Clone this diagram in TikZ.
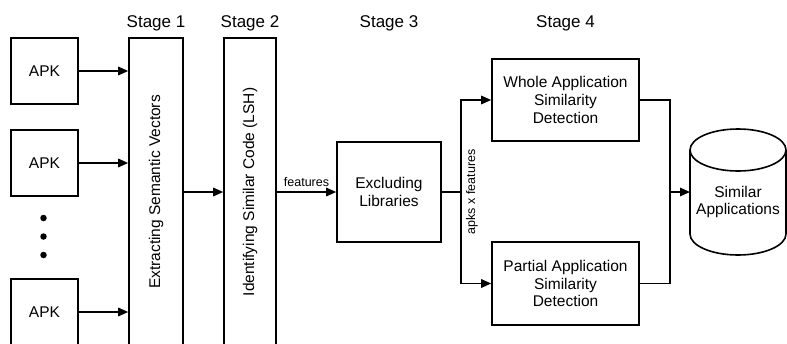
\documentclass[tikz,border=0pt]{standalone}
\usepackage{fontspec}
\setmainfont{Liberation Sans}
\usetikzlibrary{arrows.meta}
\begin{document}
\begin{tikzpicture}[x=1pt,y=-1pt,
  box/.style={draw, line width=1.6pt, inner sep=0pt, align=center, font=\fontsize{15.5}{17.8}\selectfont},
  conn/.style={line width=1.6pt},
  arr/.style={conn, -{Triangle[length=10pt,width=8.5pt]}},
  stagelbl/.style={font=\fontsize{17}{20}\selectfont},
  boxtxt/.style={font=\fontsize{15.5}{17.8}\selectfont, align=center, inner sep=0pt},
  small/.style={font=\fontsize{12.5}{14}\selectfont, inner sep=0pt},
  dotmark/.style={fill=black, circle, inner sep=0pt, minimum size=6.5pt}]
\useasboundingbox (0,0) rectangle (787,343);
% stage labels
\node[stagelbl] (st1) at (156,23) {Stage 1};
\node[stagelbl] (st2) at (250,23) {Stage 2};
\node[stagelbl] (st3) at (389,23) {Stage 3};
\node[stagelbl] (st4) at (565.5,23) {Stage 4};
% APK boxes
\node[box, minimum width=67pt, minimum height=66pt] (apk1) at (44.5,71) {APK};
\node[box, minimum width=67pt, minimum height=66pt] (apk2) at (44.5,163) {APK};
\node[box, minimum width=67pt, minimum height=66pt] (apk3) at (44.5,312) {APK};
\node[dotmark] (d1) at (43.5,218) {};
\node[dotmark] (d2) at (43.5,236.5) {};
\node[dotmark] (d3) at (43.5,255) {};
% stage 1 and 2 tall boxes
\node[box, minimum width=54pt, minimum height=322pt] (s1) at (156,199) {};
\node[box, minimum width=52pt, minimum height=322pt] (s2) at (250,199) {};
% stage 3
\node[box, minimum width=104pt, minimum height=100pt] (lib) at (389,192) {Excluding\\Libraries};
\node[boxtxt, rotate=90] (s1t) at (s1 |- lib) {Extracting Semantic Vectors};
\node[boxtxt, rotate=90] (s2t) at (s2 |- lib) {Identifying Similar Code (LSH)};
% stage 4
\node[box, minimum width=147pt, minimum height=82pt] (whole) at (565.5,100) {Whole Application\\Similarity\\Detection};
\node[box, minimum width=147pt, minimum height=83pt] (partial) at (565.5,283.5) {Partial Application\\Similarity\\Detection};
% cylinder
\coordinate (cylw) at (690,192);
\draw[line width=1.6pt] (690,150) -- (690,234) arc[start angle=180, end angle=360, x radius=48pt, y radius=21pt] -- (786,150);
\draw[line width=1.6pt] (738,150) ellipse[x radius=48pt, y radius=21pt];
\node[boxtxt] (cyl) at (738,202) {Similar\\Applications};
% connectors
\draw[arr] (apk1.east) -- (apk1.east -| s1.west);
\draw[arr] (apk2.east) -- (apk2.east -| s1.west);
\draw[arr] (apk3.east) -- (apk3.east -| s1.west);
\draw[arr] (s1.east |- lib) -- (s2.west |- lib);
\draw[arr] (s2.east |- lib) -- node[small, above=5pt] (feat) {features} (lib.west);
\draw[conn] (lib.east) -- ++(19,0) coordinate (br);
\draw[arr] (br) |- (whole.west);
\draw[arr] (br) |- (partial.west);
\node[small, rotate=90] (apf) at (472,192) {apks x features};
\coordinate (mg) at (670,192);
\draw[conn] (whole.east) -| (mg);
\draw[conn] (partial.east) -| (mg);
\draw[arr] (mg) -- (cylw);
\end{tikzpicture}
\end{document}
